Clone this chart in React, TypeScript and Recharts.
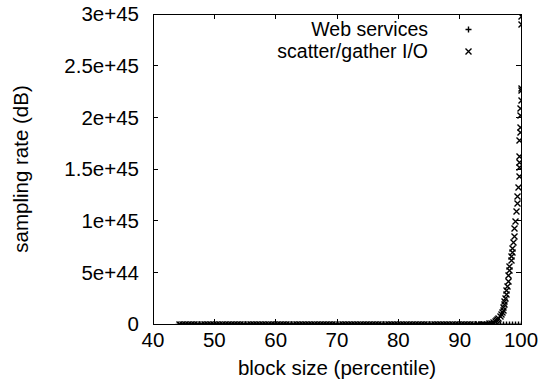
import React from "react";
import {
  ScatterChart,
  Scatter,
  XAxis,
  YAxis,
  ReferenceArea,
  Legend,
} from "recharts";

// block size percentiles for the web services run
const webX = [
  44, 44.5, 45, 45.5, 46, 46.5, 47, 47.5, 48, 48.5, 49, 49.5,
  50, 50.5, 51, 51.5, 52, 52.5, 53, 53.5, 54, 54.5, 55, 55.5, 56, 56.5, 57, 57.5, 58, 58.5, 59, 59.5,
  60, 60.5, 61, 61.5, 62, 62.5, 63, 63.5, 64, 64.5, 65, 65.5, 66, 66.5, 67, 67.5, 68, 68.5, 69, 69.5,
  70, 70.5, 71, 71.5, 72, 72.5, 73, 73.5, 74, 74.5, 75, 75.5, 76, 76.5, 77, 77.5, 78, 78.5, 79, 79.5,
  80, 80.5, 81, 81.5, 82, 82.5, 83, 83.5, 84, 84.5, 85, 85.5, 86, 86.5, 87, 87.5, 88, 88.5, 89, 89.5,
  90, 90.5, 91, 91.5, 92, 92.5, 93, 93.5, 94, 94.5, 95, 95.5, 96, 96.5, 97, 97.5, 98, 98.5, 99, 99.5,
  100,
];
const webY = [
  0, 0, 0, 0, 0, 0, 0, 0, 0, 0, 0, 0,
  0, 0, 0, 0, 0, 0, 0, 0, 0, 0, 0, 0, 0, 0, 0, 0, 0, 0, 0, 0,
  0, 0, 0, 0, 0, 0, 0, 0, 0, 0, 0, 0, 0, 0, 0, 0, 0, 0, 0, 0,
  0, 0, 0, 0, 0, 0, 0, 0, 0, 0, 0, 0, 0, 0, 0, 0, 0, 0, 0, 0,
  0, 0, 0, 0, 0, 0, 0, 0, 0, 0, 0, 0, 0, 0, 0, 0, 0, 0, 0, 0,
  0, 0, 0, 0, 0, 0, 0, 0, 0, 0, 0, 0, 0, 0, 0, 0, 0, 0, 0, 0,
  0,
];

// scatter/gather I/O: flat until ~93, then the steep tail
const sgX = [
  44.25, 44.75, 45.25, 45.75, 46.25, 46.75, 47.25, 47.75, 48.25, 48.75, 49.25, 49.75,
  50.25, 50.75, 51.25, 51.75, 52.25, 52.75, 53.25, 53.75, 54.25, 54.75,
  55.25, 55.75, 56.25, 56.75, 57.25, 57.75, 58.25, 58.75, 59.25, 59.75,
  60.25, 60.75, 61.25, 61.75, 62.25, 62.75, 63.25, 63.75, 64.25, 64.75,
  65.25, 65.75, 66.25, 66.75, 67.25, 67.75, 68.25, 68.75, 69.25, 69.75,
  70.25, 70.75, 71.25, 71.75, 72.25, 72.75, 73.25, 73.75, 74.25, 74.75,
  75.25, 75.75, 76.25, 76.75, 77.25, 77.75, 78.25, 78.75, 79.25, 79.75,
  80.25, 80.75, 81.25, 81.75, 82.25, 82.75, 83.25, 83.75, 84.25, 84.75,
  85.25, 85.75, 86.25, 86.75, 87.25, 87.75, 88.25, 88.75, 89.25, 89.75,
  90.25, 90.75, 91.25, 91.75, 92.25, 92.75,
  93, 93.5, 94, 94.4, 94.8, 95.1, 95.4, 95.7, 95.9, 96.1, 96.3, 96.5, 96.7, 96.9,
  97, 97.1, 97.2, 97.3, 97.4, 97.5, 97.6, 97.7, 97.8, 97.9,
  98, 98.1, 98.3, 98.4, 98.5, 98.6, 98.7, 98.8, 98.9,
  99, 99.2, 99.3, 99.4, 99.5, 99.6, 99.6, 99.7, 99.7, 99.7, 99.8, 99.8, 99.8, 99.9, 99.95,
  100, 100, 100, 100,
];
const sgY = [
  0, 0, 0, 0, 0, 0, 0, 0, 0, 0, 0, 0,
  0, 0, 0, 0, 0, 0, 0, 0, 0, 0,
  0, 0, 0, 0, 0, 0, 0, 0, 0, 0,
  0, 0, 0, 0, 0, 0, 0, 0, 0, 0,
  0, 0, 0, 0, 0, 0, 0, 0, 0, 0,
  0, 0, 0, 0, 0, 0, 0, 0, 0, 0,
  0, 0, 0, 0, 0, 0, 0, 0, 0, 0,
  0, 0, 0, 0, 0, 0, 0, 0, 0, 0,
  0, 0, 0, 0, 0, 0, 0, 0, 0, 0,
  0, 0, 0, 0, 0, 0,
  0, 0.001e45, 0.002e45, 0.004e45, 0.007e45, 0.011e45, 0.016e45, 0.025e45, 0.034e45, 0.045e45,
  0.058e45, 0.075e45, 0.095e45, 0.12e45,
  0.14e45, 0.16e45, 0.19e45, 0.22e45, 0.25e45, 0.29e45, 0.33e45, 0.37e45, 0.42e45, 0.47e45,
  0.52e45, 0.56e45, 0.62e45, 0.66e45, 0.7e45, 0.74e45, 0.79e45, 0.85e45, 0.93e45,
  1e45, 1.09e45, 1.17e45, 1.24e45, 1.33e45, 1.43e45, 1.52e45, 1.57e45, 1.63e45, 1.78e45,
  1.86e45, 1.91e45, 2.02e45, 2.09e45, 2.17e45,
  2.26e45, 2.28e45, 2.9e45, 2.98e45,
];

const xTicks = [40, 50, 60, 70, 80, 90, 100];
const yTicks = [0, 5e44, 1e45, 1.5e45, 2e45, 2.5e45, 3e45];

const webData = webX.map((x, i) => ({ x, y: webY[i] }));
const sgData = sgX.map((x, i) => ({ x, y: sgY[i] }));

const FONT = "'Liberation Sans', Arial, Helvetica, sans-serif";
const FS = 20.5;
const KEY_FS = 19.5;
const W = 542;
const H = 389;
const PLOT = { left: 153, right: 521, top: 14, bottom: 324 };
const TICK = 5;
const MS = 3;
const MARK_W = 1.4;

const fmtY = (v: number) => (v === 0 ? "0" : v.toExponential());
// snap to pixel centres
const px = (v: number) => Math.round(v) + 0.5;

function PlusMark({ cx, cy }: { cx: number; cy: number }) {
  const x = px(cx);
  const y = px(cy);
  return (
    <path
      d={`M${x - MS},${y}h${2 * MS}M${x},${y - MS}v${2 * MS}`}
      stroke="#000"
      strokeWidth={MARK_W}
      fill="none"
    />
  );
}

function CrossMark({ cx, cy }: { cx: number; cy: number }) {
  const x = px(cx);
  const y = px(cy);
  return (
    <path
      d={`M${x - MS},${y - MS}l${2 * MS},${2 * MS}M${x - MS},${y + MS}l${2 * MS},${-2 * MS}`}
      stroke="#000"
      strokeWidth={MARK_W}
      fill="none"
    />
  );
}

// inward ticks on bottom and mirrored on top
function XTick(props: any) {
  const { x, payload } = props;
  return (
    <g>
      <line x1={x} x2={x} y1={PLOT.bottom} y2={PLOT.bottom - TICK} stroke="#000" shapeRendering="crispEdges" />
      <line x1={x} x2={x} y1={PLOT.top} y2={PLOT.top + TICK} stroke="#000" shapeRendering="crispEdges" />
      <text x={x} y={PLOT.bottom + 23} textAnchor="middle" fill="#000" fontSize={FS} fontFamily={FONT}>
        {payload.value}
      </text>
    </g>
  );
}

// inward ticks on left and mirrored on right
function YTick(props: any) {
  const { y, payload } = props;
  return (
    <g>
      <line x1={PLOT.left} x2={PLOT.left + TICK} y1={y} y2={y} stroke="#000" shapeRendering="crispEdges" />
      <line x1={PLOT.right - TICK} x2={PLOT.right} y1={y} y2={y} stroke="#000" shapeRendering="crispEdges" />
      <text x={PLOT.left - 14} y={y} dy="0.35em" textAnchor="end" fill="#000" fontSize={FS} fontFamily={FONT}>
        {fmtY(payload.value)}
      </text>
    </g>
  );
}

function XTitle() {
  return (
    <text
      x={(PLOT.left + PLOT.right) / 2}
      y={375}
      textAnchor="middle"
      fill="#000"
      fontSize={FS}
      fontFamily={FONT}
    >
      block size (percentile)
    </text>
  );
}

function YTitle() {
  const cy = (PLOT.top + PLOT.bottom) / 2;
  return (
    <text
      transform={`translate(28,${cy}) rotate(-90)`}
      textAnchor="middle"
      fill="#000"
      fontSize={FS}
      fontFamily={FONT}
    >
      sampling rate (dB)
    </text>
  );
}

function KeyBox(props: any) {
  const items = props.payload || [];
  return (
    <svg width={W} height={66} style={{ display: "block" }}>
      {items.map((item: any, i: number) => {
        const base = 35.5 + i * 22;
        const my = base - 6.5;
        return (
          <g key={item.value}>
            <text x={428} y={base} textAnchor="end" fill="#000" fontSize={KEY_FS} fontFamily={FONT}>
              {item.value}
            </text>
            {i === 0 ? <PlusMark cx={468} cy={my} /> : <CrossMark cx={468} cy={my} />}
          </g>
        );
      })}
    </svg>
  );
}

export default function App() {
  return (
    <div style={{ position: "absolute", left: 0, top: 0, width: W, height: H, background: "#fff" }}>
      <ScatterChart
        width={W}
        height={H}
        margin={{ top: PLOT.top, right: W - PLOT.right, bottom: 0, left: 0 }}
        style={{ fontFamily: FONT }}
      >
        <XAxis
          type="number"
          dataKey="x"
          domain={[40, 100]}
          ticks={xTicks}
          height={H - PLOT.bottom}
          axisLine={false}
          tickLine={false}
          tickSize={0}
          tick={<XTick />}
          interval={0}
          allowDataOverflow
          label={<XTitle />}
        />
        <YAxis
          type="number"
          dataKey="y"
          domain={[0, 3e45]}
          ticks={yTicks}
          width={PLOT.left}
          axisLine={false}
          tickLine={false}
          tickSize={0}
          tick={<YTick />}
          interval={0}
          allowDataOverflow
          label={<YTitle />}
        />
        <ReferenceArea
          x1={40}
          x2={100}
          y1={0}
          y2={3e45}
          fill="none"
          stroke="#000"
          strokeWidth={1}
          shapeRendering="crispEdges"
        />
        <Legend
          layout="horizontal"
          verticalAlign="middle"
          align="center"
          wrapperStyle={{ top: 0, left: 0, width: W }}
          content={<KeyBox />}
        />
        <Scatter
          name="Web services"
          data={webData}
          isAnimationActive={false}
          shape={(p: any) => <PlusMark cx={p.cx} cy={p.cy} />}
        />
        <Scatter
          name="scatter/gather I/O"
          data={sgData}
          isAnimationActive={false}
          shape={(p: any) => <CrossMark cx={p.cx} cy={p.cy} />}
        />
      </ScatterChart>
    </div>
  );
}
